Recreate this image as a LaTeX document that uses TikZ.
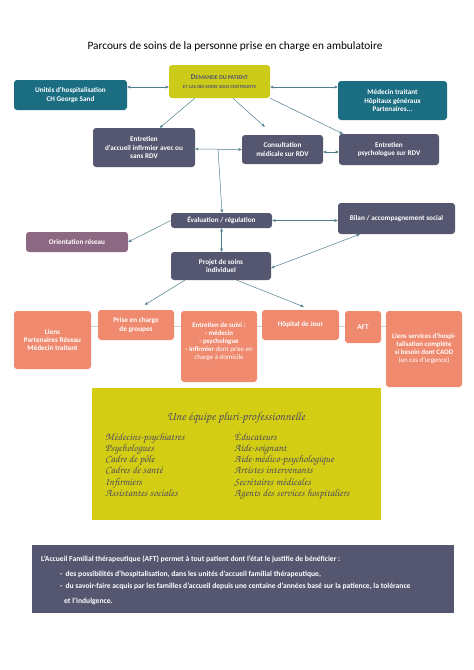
\documentclass[tikz,border=0pt]{standalone}
\usepackage[T1]{fontenc}
\usepackage{fontspec}
\setmainfont{Carlito}
\usetikzlibrary{arrows.meta,backgrounds}
\definecolor{slate}{HTML}{55566F}
\definecolor{teal}{HTML}{1B6E82}
\definecolor{demy}{HTML}{CCCB1A}
\definecolor{bigy}{HTML}{D3CD14}
\definecolor{salmon}{HTML}{EF8A6F}
\definecolor{mauve}{HTML}{8D6882}
\definecolor{arr}{HTML}{4D7D8E}
\definecolor{scripttext}{HTML}{504C5C}
\newcommand\myscriptfont{\fontencoding{T1}\fontfamily{pzc}\fontseries{mb}\fontshape{it}\selectfont}
\tikzset{
  box/.style={rounded corners=3pt, inner sep=1pt, align=center,
    font=\fontsize{7.2}{8.3}\selectfont\bfseries, text=white},
  slatebox/.style={box, fill=slate},
  tealbox/.style={box, fill=teal},
  salbox/.style={box, fill=salmon},
  conn/.style={draw=arr, line width=0.5pt},
  tip/.style={-{Stealth[length=3.5pt,width=3pt]}},
  tips/.style={{Stealth[length=3.5pt,width=3pt]}-{Stealth[length=3.5pt,width=3pt]}},
  scr/.style={anchor=base west, inner sep=0pt, text=scripttext, font=\myscriptfont\fontsize{10.6}{12}\selectfont},
  btxt/.style={anchor=base west, inner sep=0pt, text=white, font=\fontsize{7.6}{8.7}\selectfont\bfseries},
}
\begin{document}
\begin{tikzpicture}[x=1pt,y=-1pt]
\useasboundingbox (0,0) rectangle (474,670);

\node[inner sep=0pt, font=\fontsize{11.3}{13}\selectfont] (title) at (235,47) {Parcours de soins de la personne prise en charge en ambulatoire};

% top row
\node[tealbox, minimum width=113pt, minimum height=30pt] (uni) at (70.5,95) {Unités d'hospitalisation\\CH George Sand};
\node[box, fill=demy, text=slate, minimum width=101pt, minimum height=33pt] (dem) at (219.5,81.5)
  {{\fontsize{7.4}{8}\selectfont D}{\fontsize{5.9}{8}\selectfont EMANDE DU PATIENT}\\[1pt]{\fontsize{4.7}{6}\selectfont ET CAS DES SOINS SOUS CONTRAINTE}};
\node[tealbox, minimum width=109pt, minimum height=39pt] (med) at (392.5,100.5) {Médecin traitant\\Hôpitaux généraux\\Partenaires...};

% second row
\node[slatebox, minimum width=102pt, minimum height=39pt] (acc) at (144,147.5) {Entretien\\d'accueil infirmier avec ou\\sans RDV};
\node[slatebox, minimum width=81pt, minimum height=29pt] (cons) at (282.5,149.5) {Consultation\\médicale sur RDV};
\node[slatebox, minimum width=100pt, minimum height=31pt] (psy) at (389,149.5) {Entretien\\psychologue sur RDV};

% middle
\node[slatebox, minimum width=101pt, minimum height=15pt] (eval) at (221.5,220.5) {Évaluation / régulation};
\node[slatebox, minimum width=117pt, minimum height=31pt] (bil) at (396.5,218.5) {Bilan / accompagnement social};
\node[box, fill=mauve, minimum width=102pt, minimum height=20pt] (ori) at (77,242) {Orientation réseau};
\node[slatebox, minimum width=100pt, minimum height=28pt] (proj) at (221,266) {Projet de soins\\individuel};

% bottom salmon boxes
\node[salbox, minimum width=77pt, minimum height=58pt] (liens) at (52.5,340) {Liens\\Partenaires Réseau\\Médecin traitant};
\node[salbox, minimum width=76pt, minimum height=30pt] (prise) at (136,325) {Prise en charge\\de groupes};
\node[salbox, minimum width=76pt, minimum height=71pt, align=center] (suivi) at (219,346.5) {};
\node[inner sep=0pt, align=center, text=white, font=\fontsize{6.9}{8}\selectfont] (suivitxt) at (219,342)
  {\textbf{Entretien de suivi :}\\\textbf{- médecin}\\\textbf{- psychologue}\\\textbf{- Infirmier} dont prise en\\charge à domicile};
\node[salbox, minimum width=77pt, minimum height=30pt] (hop) at (300.5,325) {Hôpital de Jour};
\node[salbox, minimum width=36pt, minimum height=32pt] (aft) at (363,327) {AFT};
\node[salbox, minimum width=76pt, minimum height=76pt, font=\fontsize{6.9}{8}\selectfont\bfseries] (lserv) at (424,349)
  {Liens services d'hospi-\\talisation complète\\si besoin dont CAOD\\{\mdseries (en cas d'urgence)}};

\begin{scope}[on background layer]
  \fill[white] (0,0) rectangle (474,670);
  \draw[black!18, line width=0.7pt] ([yshift=14pt]liens.east) -- ([yshift=23pt]lserv.west);
\end{scope}

% connectors
\draw[conn,tips] ([yshift=8pt]uni.east) -- ([yshift=-5.5pt]dem.west);
\draw[conn,tips] ([yshift=-5.5pt]dem.east) -- ([yshift=13.5pt]med.west);
\draw[conn,tip] ([xshift=26pt]dem.south west) -- ([xshift=67pt]acc.north west);
\draw[conn,tip] ([xshift=64pt]dem.south west) -- ([xshift=23pt,yshift=8pt]cons.north west);
\draw[conn,tip] (dem.south east) -- ([xshift=4pt]psy.north west);
\draw[conn,tips] ([yshift=-1.5pt]acc.east) -- (cons.west);
\coordinate (j) at (218,149);
\draw[conn,tip] (j) -- ([xshift=0.5pt]eval.north);
\draw[conn,tips] ([yshift=-2.5pt]cons.east) -- ([yshift=-2.5pt]psy.west);
\draw[conn,tips] (eval.east) -- (eval.east -| bil.west);
\draw[conn,tip] (eval.west) -- (ori.east);
\draw[conn,tips] (eval.south) -- (eval.south |- proj.north);
\draw[conn,tips] ([xshift=22pt]bil.south west) -- ([yshift=-2pt]proj.east);
\draw[conn,tip] ([xshift=14pt]proj.south west) -- ([xshift=47pt,yshift=5pt]prise.north west);
\draw[conn,tip] ([xshift=66pt]proj.south west) -- ([xshift=42pt,yshift=3pt]hop.north west);

% yellow team box
\node[fill=bigy, minimum width=289pt, minimum height=132pt, inner sep=0pt] (team) at (236.5,454) {};
\node[scr, anchor=base, font=\myscriptfont\fontsize{12.2}{14}\selectfont] (teamtitle) at (236,420) {Une équipe pluri-professionnelle};
\node[scr] (l1) at (105,440) {Médecins-psychiatres};
\node[scr] (l2) at (105,451) {Psychologues};
\node[scr] (l3) at (105,462) {Cadre de pôle};
\node[scr] (l4) at (105,473) {Cadres de santé};
\node[scr] (l5) at (105,485) {Infirmiers};
\node[scr] (l6) at (105,496) {Assistantes sociales};
\node[scr] (r1) at (234,440) {Éducateurs};
\node[scr] (r2) at (234,451) {Aide-soignant};
\node[scr] (r3) at (234,462) {Aide-médico-psychologique};
\node[scr] (r4) at (234,473) {Artistes intervenants};
\node[scr] (r5) at (234,485) {Secrétaires médicales};
\node[scr] (r6) at (234,496) {Agents des services hospitaliers};

% bottom AFT box
\node[fill=slate, minimum width=422pt, minimum height=68pt, inner sep=0pt] (aftbox) at (243,579) {};
\node[btxt] (b1) at (41,561) {L'Accueil Familial thérapeutique (AFT) permet à tout patient dont l'état le justifie de bénéficier :};
\node[btxt] (b2) at (60,576) {-\hspace{3pt}des possibilités d'hospitalisation, dans les unités d'accueil familial thérapeutique,};
\node[btxt] (b3) at (60,588.5) {-\hspace{3pt}du savoir-faire acquis par les familles d'accueil depuis une centaine d'années basé sur la patience, la tolérance};
\node[btxt] (b4) at (64,603) {et l'indulgence.};
\end{tikzpicture}
\end{document}
